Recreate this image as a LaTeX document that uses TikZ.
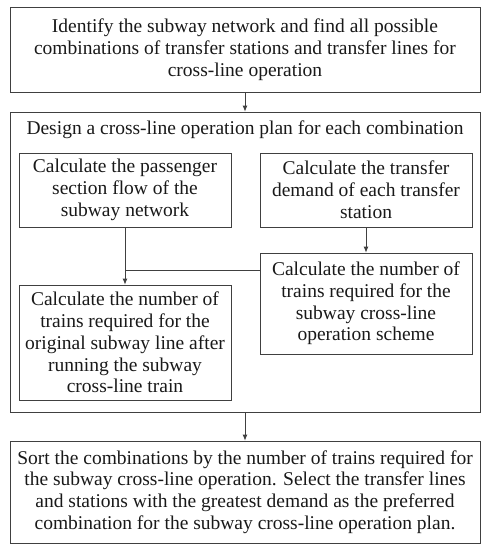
\documentclass[tikz,border=0pt]{standalone}
\usepackage{fontspec}
\setmainfont{Liberation Serif}
\usetikzlibrary{arrows.meta}
\begin{document}
\begin{tikzpicture}[x=1pt,y=-1pt,
    box/.style={draw=black!75, line width=0.8pt, align=center, inner sep=0pt,
      font=\fontsize{19.5}{21.8}\selectfont, text=black!90},
    >={Latex[length=6pt,width=5pt]}]
  \useasboundingbox (0,0) rectangle (487,550);
  \node (ident) at (245,49.5) [box, minimum width=470, minimum height=85]
    {Identify the subway network and find all possible\\
     combinations of transfer stations and transfer lines for\\
     cross-line operation};
  \node (plan) at (245,262) [box, minimum width=470, minimum height=300] {};
  \node (title) at (245,130) [box, draw=none]
    {Design a cross-line operation plan for each combination};
  \node (flow) at (125,190) [box, minimum width=212, minimum height=74]
    {Calculate the passenger\\ section flow of the\\ subway network};
  \node (demand) at (366,190) [box, minimum width=212, minimum height=74]
    {Calculate the transfer\\ demand of each transfer\\ station};
  \node (scheme) at (366,303.5) [box, minimum width=212, minimum height=101]
    {Calculate the number of\\ trains required for the\\ subway cross-line\\
     operation scheme};
  \node (original) at (125,342.5) [box, minimum width=212, minimum height=115]
    {Calculate the number of\\ trains required for the\\
     original subway line after\\ running the subway\\ cross-line train};
  \node (sort) at (245,492) [box, minimum width=470, minimum height=102]
    {Sort the combinations by the number of trains required for\\
     the subway cross-line operation. Select the transfer lines\\
     and stations with the greatest demand as the preferred\\
     combination for the subway cross-line operation plan.};
  \coordinate (join) at (125,270);
  \begin{scope}[draw=black!75, line width=0.8pt]
    \draw[->] (ident) -- (plan);
    \draw[->] (flow) -- (original);
    \draw[->] (demand) -- (scheme);
    \draw (scheme.west |- join) -- (join);
    \draw[->] (plan) -- (sort);
  \end{scope}
\end{tikzpicture}
\end{document}
